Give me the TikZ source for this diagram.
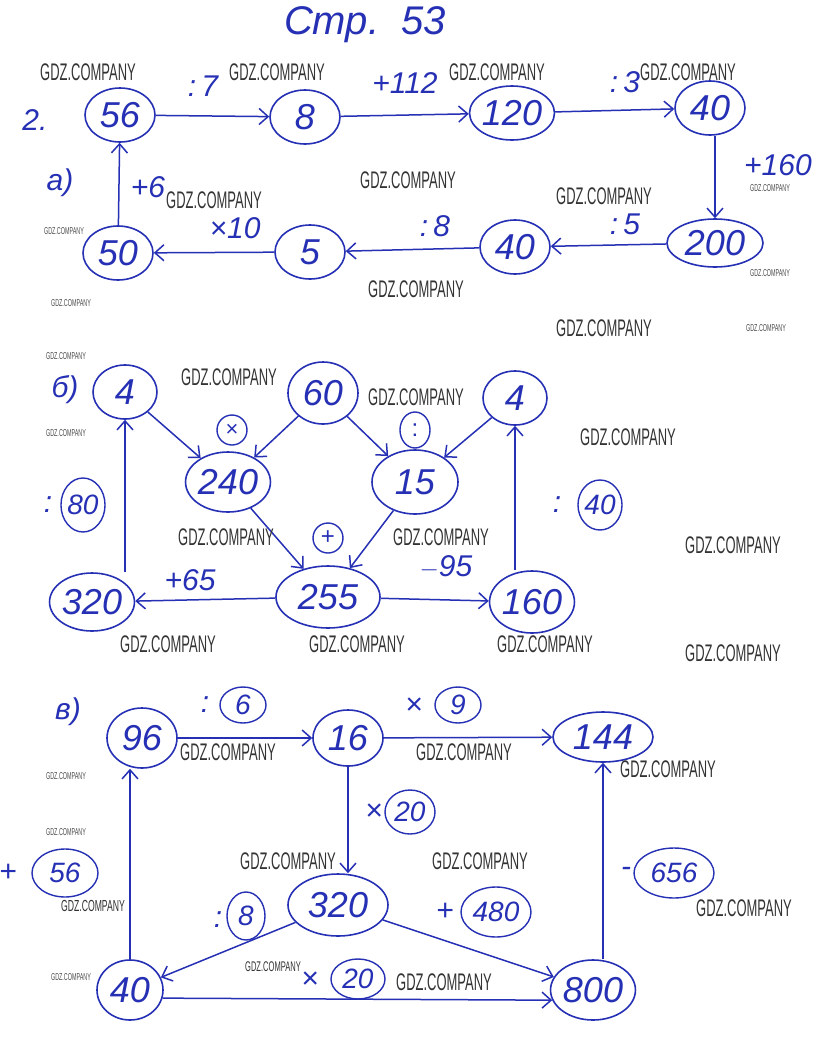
\documentclass[tikz,border=0pt]{standalone}
\usepackage{fontspec}
\setmainfont{Liberation Sans}
\newfontfamily\inkfont{Liberation Sans}
\newfontfamily\wmfont[FakeStretch=0.54]{Liberation Sans}
\usetikzlibrary{shapes.geometric,arrows.meta}
\definecolor{ink}{RGB}{38,48,180}
\tikzset{
  num/.style={ellipse, draw=ink, line width=1.6pt, text=ink, inner sep=0pt,
    minimum width=70pt, minimum height=54pt,
    font=\inkfont\itshape\fontsize{36}{36}\selectfont},
  opc/.style={ellipse, draw=ink, line width=1.4pt, text=ink, inner sep=0pt,
    minimum width=40pt, minimum height=40pt,
    font=\inkfont\itshape\fontsize{28}{28}\selectfont},
  op/.style={text=ink, font=\inkfont\itshape\fontsize{30}{30}\selectfont},
  arr/.style={draw=ink, line width=1.5pt, -{Straight Barb[length=9pt,width=16pt]}},
  wm/.style={text=black!80, font=\wmfont\fontsize{24}{24}\selectfont},
  wms/.style={text=black!70, font=\wmfont\fontsize{10}{10}\selectfont}
}
\begin{document}
\begin{tikzpicture}[x=1pt, y=-1pt]
  \useasboundingbox[fill=white] (0,0) rectangle (836,1037);

  % 1. Header
  \node[op, font=\inkfont\itshape\fontsize{40}{40}\selectfont] (title) at (365,25) {Стр.\ \ 53};
  \node[op] (nr) at (35,120) {2.};

  % 2. Part a
  \node[op] (pa) at (60,183) {а)};
  \node[num] (a56) at (120,115) {56};
  \node[num] (a8) at (305,117) {8};
  \node[num] (a120) at (512,113) {120};
  \node[num] (a40) at (710,108) {40};
  \node[num, minimum width=96pt, minimum height=48pt] (a200) at (715,243) {200};
  \node[num] (a40b) at (515,247) {40};
  \node[num] (a5) at (310,252) {5};
  \node[num] (a50) at (118,253) {50};
  \draw[arr] (a56) -- (a8);
  \draw[arr] (a8) -- (a120);
  \draw[arr] (a120) -- (a40);
  \draw[arr] (a40.south -| a200.north) -- (a200.north);
  \draw[arr] (a200) -- (a40b);
  \draw[arr] (a40b) -- (a5);
  \draw[arr] (a5) -- (a50);
  \draw[arr] (a50) -- (a56);
  \node[op] (o7) at (203,86) {:\,7};
  \node[op] (o112) at (405,83) {+112};
  \node[op] (o3) at (625,82) {:\,3};
  \node[op] (o160) at (778,165) {+160};
  \node[op] (o5) at (625,224) {:\,5};
  \node[op] (o8) at (435,226) {:\,8};
  \node[op] (o10) at (235,228) {×10};
  \node[op] (o6) at (148,187) {+6};

  % 3. Part b
  \node[op] (pb) at (65,390) {б)};
  \node[num, minimum width=64pt] (b4a) at (125,392) {4};
  \node[num, minimum height=62pt] (b60) at (323,393) {60};
  \node[num, minimum width=64pt] (b4b) at (515,398) {4};
  \node[num, minimum height=60pt] (b240) at (228,482) {240};
  \node[num, minimum width=86pt, minimum height=64pt] (b15) at (415,482) {15};
  \node[num, minimum width=104pt, minimum height=62pt] (b255) at (328,597) {255};
  \node[num, minimum height=58pt] (b320) at (92,602) {320};
  \node[num, minimum height=62pt] (b160) at (532,602) {160};
  \draw[arr] (b4a) -- (b240);
  \draw[arr] (b60) -- (b240);
  \draw[arr] (b60) -- (b15);
  \draw[arr] (b4b) -- (b15);
  \draw[arr] (b240) -- (b255);
  \draw[arr] (b15) -- (b255);
  \draw[arr] (b255) -- (b320);
  \draw[arr] (b255) -- (b160);
  \draw[arr] (b4a.south |- b320.north) -- (b4a.south);
  \draw[arr] (b4b.south |- b160.north) -- (b4b.south);
  \node[opc, minimum width=30pt, minimum height=30pt, font=\inkfont\fontsize{22}{22}\selectfont] (bx) at (232,430) {×};
  \node[opc, minimum width=30pt, minimum height=36pt, font=\inkfont\fontsize{24}{24}\selectfont] (bd) at (415,430) {:};
  \node[opc, minimum width=30pt, minimum height=30pt, font=\inkfont\fontsize{24}{24}\selectfont] (bp) at (328,538) {+};
  \node[op] (b80c) at (48,505) {:};
  \node[opc, minimum height=54pt] (b80) at (83,505) {80};
  \node[op] (b40c) at (557,505) {:};
  \node[opc, minimum height=50pt] (b40) at (600,505) {40};
  \node[op] (o65) at (190,580) {+65};
  \node[op] (o95) at (446,567) {$-$95};

  % 4. Part c
  \node[op] (pc) at (68,712) {в)};
  \node[num, minimum height=60pt] (c96) at (142,738) {96};
  \node[num, minimum height=56pt] (c16) at (348,738) {16};
  \node[num, minimum width=100pt, minimum height=50pt] (c144) at (603,737) {144};
  \node[num, minimum width=100pt, minimum height=62pt] (c320) at (338,905) {320};
  \node[num, minimum width=66pt, minimum height=60pt] (c40) at (130,990) {40};
  \node[num, minimum width=84pt, minimum height=60pt] (c800) at (593,990) {800};
  \draw[arr] (c96) -- (c16);
  \draw[arr] (c16) -- (c144);
  \draw[arr] (c16.south) -- (c16.south |- c320.north);
  \draw[arr] (c320) -- (c40);
  \draw[arr] (c320) -- (c800);
  \draw[arr] (c40.-14) -- (c800.194);
  \draw[arr] (c40.north) -- (c40.north |- c96.south);
  \draw[arr] (c144.south |- c800.north) -- (c144.south);
  \node[op] (c6c) at (205,705) {:};
  \node[opc, minimum width=46pt, minimum height=36pt] (c6) at (243,705) {6};
  \node[op] (c9c) at (414,706) {×};
  \node[opc, minimum width=46pt, minimum height=36pt] (c9) at (458,705) {9};
  \node[op] (c20c) at (374,812) {×};
  \node[opc, minimum width=50pt, minimum height=44pt] (c20) at (410,812) {20};
  \node[op] (c56c) at (8,873) {+};
  \node[opc, minimum width=66pt, minimum height=48pt] (c56) at (65,873) {56};
  \node[op] (c8c) at (218,920) {:};
  \node[opc, minimum width=38pt, minimum height=48pt] (c8) at (246,916) {8};
  \node[op] (c480c) at (445,912) {+};
  \node[opc, minimum width=70pt, minimum height=50pt] (c480) at (496,912) {480};
  \node[op] (c656c) at (626,872) {-};
  \node[opc, minimum width=80pt, minimum height=50pt] (c656) at (674,873) {656};
  \node[op] (c20bc) at (310,980) {×};
  \node[opc, minimum width=54pt, minimum height=40pt] (c20b) at (358,979) {20};

  % 5. Watermarks
  \foreach \x/\y in {88/72, 277/72, 497/72, 688/72, 408/180, 604/196, 214/200,
      416/289, 604/328, 229/377, 416/397, 628/437, 226/537, 441/537, 733/545,
      168/644, 357/644, 545/644, 733/653, 228/752, 464/752, 668/769, 288/861,
      480/861, 744/908, 444/982}
    \node[wm] at (\x,\y) {GDZ.COMPANY};
  \node[wm, font=\wmfont\fontsize{16}{16}\selectfont] at (93,906) {GDZ.COMPANY};
  \node[wm, font=\wmfont\fontsize{14}{14}\selectfont] at (273,967) {GDZ.COMPANY};
  \foreach \x/\y in {64/231, 71/303, 770/188, 770/273, 766/328, 66/356, 66/433,
      66/776, 66/832, 71/977}
    \node[wms] at (\x,\y) {GDZ.COMPANY};
\end{tikzpicture}
\end{document}
